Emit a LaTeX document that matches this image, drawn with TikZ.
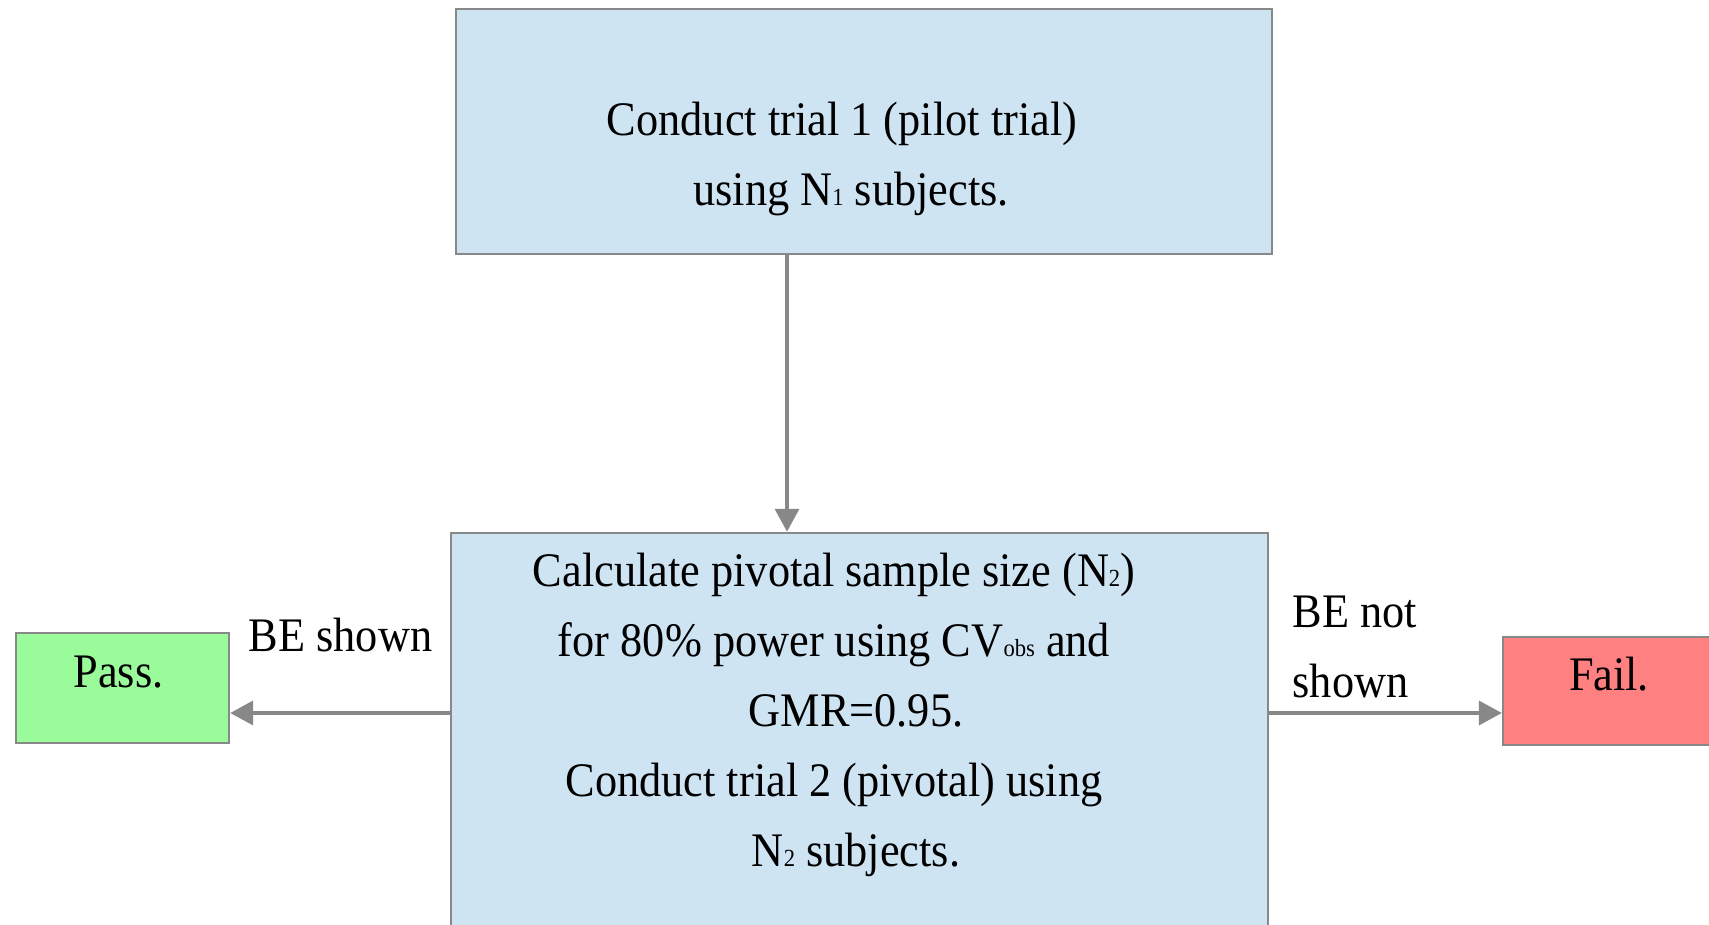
\documentclass[tikz,border=0pt]{standalone}
\usepackage{fontspec}
\setmainfont{Liberation Serif}[FakeStretch=0.92]
\usepackage{xcolor}
\usetikzlibrary{calc, arrows.meta}

\definecolor{boxblue}{RGB}{207,228,243}
\definecolor{passgreen}{RGB}{153,251,153}
\definecolor{failred}{RGB}{255,128,128}
\definecolor{linegray}{RGB}{136,136,136}

\newcommand{\low}[1]{{\fontsize{7}{7}\selectfont #1}}

\begin{document}
\begin{tikzpicture}[x=0.01cm, y=-0.01cm,
		box/.style = {draw = linegray, line width = 0.65pt, inner sep = 0pt},
		txt/.style = {align = center, inner sep = 0pt, font = \fontsize{13.7}{19.9}\selectfont},
		arr/.style = {draw = linegray, line width = 1pt, -{Triangle[length = 6.5pt, width = 6.8pt]}}]
		%frame
		\clip (0,0) rectangle (1709,925);
		
		%coordinates
		\coordinate (split) at (787,0);
		\coordinate (lane) at (0,713);
		
		%boxes
		\node [box, fill = boxblue, minimum width = 8.16cm, minimum height = 2.45cm] (pilot) at (864,131.5) {};
		\node [box, fill = boxblue, minimum width = 8.17cm, minimum height = 4.27cm] (pivotal) at (859.5,746.5) {};
		\node [box, fill = passgreen, minimum width = 2.13cm, minimum height = 1.1cm] (pass) at (122.5,688) {};
		\node [box, fill = failred, minimum width = 2.11cm, minimum height = 1.08cm] (fail) at (1608.5,691) {};
		
		%texts
		\node [txt] (pilot text) at (842,158.8) {Conduct trial 1 (pilot trial)\\ \hspace*{0.18cm}using N\low{1} subjects.};
		\node [txt] (pivotal text) at (834,714.8) {Calculate pivotal sample size (N\low{2})\\ for 80\% power using CV\low{obs} and\\ \hspace*{0.44cm}GMR=0.95.\\ Conduct trial 2 (pivotal) using\\ \hspace*{0.44cm}N\low{2} subjects.};
		\node [txt, anchor = base] (pass text) at (118.5,688) {Pass.};
		\node [txt, anchor = base] (fail text) at (1609,691) {Fail.};
		
		%arrows
		\draw [arr] (pilot.south -| split) -- (pivotal.north -| split);
		\draw [arr] (pivotal.west |- lane) -- (pass.east |- lane);
		\draw [arr] (pivotal.east |- lane) -- (fail.west |- lane);
		
		%labels
		\node [txt, anchor = base] (shown) at (340.5,652) {BE shown};
		\node [txt, align = left, anchor = west] (not shown) at (1292,646.5) {BE not\\ shown};
	\end{tikzpicture}
\end{document}
